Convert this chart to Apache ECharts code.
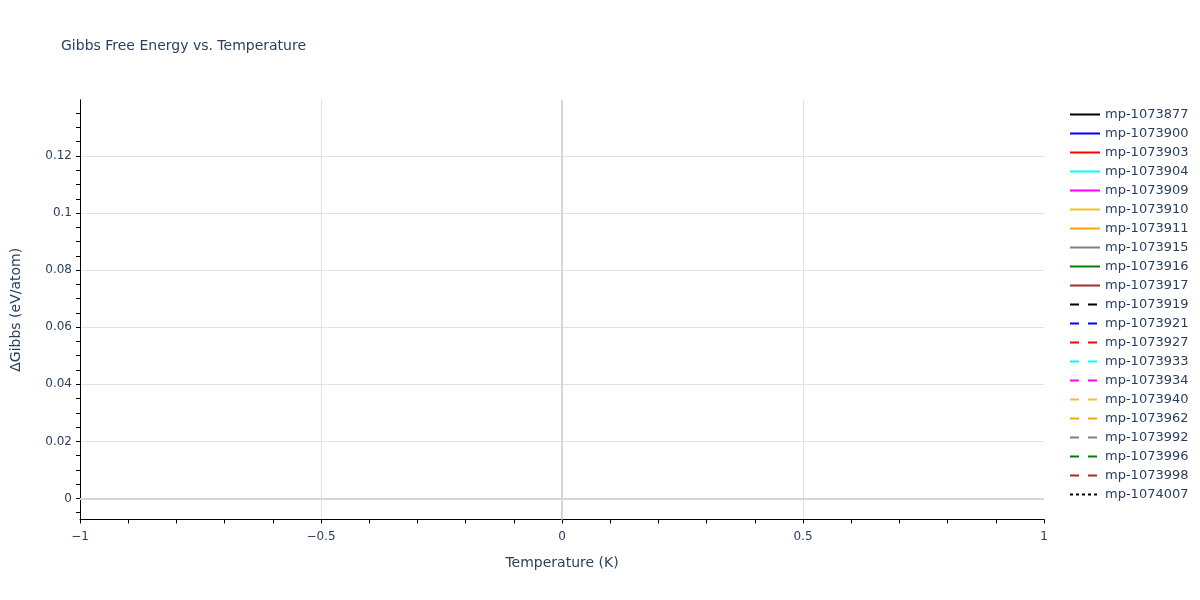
<!DOCTYPE html>
<html>
<head>
<meta charset="utf-8">
<script src="https://cdn.jsdelivr.net/npm/echarts@6/dist/echarts.min.js"></script>
<style>html,body{margin:0;padding:0;background:#fff}#c{width:1200px;height:600px}</style>
</head>
<body>
<div id="c"></div>
<script>
// Series names (legend entries) — traces have no visible data points
const seriesNames = ['mp-1073877','mp-1073900','mp-1073903','mp-1073904','mp-1073909','mp-1073910','mp-1073911','mp-1073915','mp-1073916','mp-1073917','mp-1073919','mp-1073921','mp-1073927','mp-1073933','mp-1073934','mp-1073940','mp-1073962','mp-1073992','mp-1073996','mp-1073998','mp-1074007'];
const seriesColors = ['#000000','#0000ff','#ff0000','#00ffff','#ff00ff','#f0c22a','#ffa500','#808080','#008000','#a52a2a','#000000','#0000ff','#ff0000','#00ffff','#ff00ff','#f0c22a','#ffa500','#808080','#008000','#a52a2a','#000000'];
const seriesDash = ['solid','solid','solid','solid','solid','solid','solid','solid','solid','solid','dash','dash','dash','dash','dash','dash','dash','dash','dash','dash','dot'];
const temperatures = [];
const gibbsValues = seriesNames.map(() => []);
// Axis ranges & ticks
const xRange = [-1, 1];
const yRange = [-0.00737, 0.1396];
const yLabelTicks = [0, 0.02, 0.04, 0.06, 0.08, 0.1, 0.12];
const yMinorTicks = [-0.005,0,0.005,0.01,0.015,0.02,0.025,0.03,0.035,0.04,0.045,0.05,0.055,0.06,0.065,0.07,0.075,0.08,0.085,0.09,0.095,0.1,0.105,0.11,0.115,0.12,0.125,0.13,0.135];

const FONT = '"DejaVu Sans", Verdana, sans-serif';
const TXT = '#2a3f5f';
const dashMap = {solid: 'solid', dash: [9, 9], dot: [3, 3]};

const chart = echarts.init(document.getElementById('c'));
const series = seriesNames.map((name, i) => ({
  name: name,
  type: 'line',
  symbol: 'none',
  showSymbol: false,
  data: gibbsValues[i].map((v, j) => [temperatures[j], v]),
  lineStyle: {color: seriesColors[i], width: 2, type: dashMap[seriesDash[i]]},
  itemStyle: {color: seriesColors[i]},
  z: 3
}));
// zero lines (axis feature)
series.push({
  name: '_zero', type: 'line', data: [], symbol: 'none', silent: true, z: 1,
  markLine: {
    silent: true, symbol: 'none', label: {show: false},
    lineStyle: {color: '#d6d6d6', width: 2, type: 'solid'},
    data: [{yAxis: 0}, {xAxis: 0}]
  }
});

chart.setOption({
  animation: false,
  backgroundColor: '#fff',
  textStyle: {fontFamily: FONT},
  title: {
    text: 'Gibbs Free Energy vs. Temperature',
    left: 61, top: 39, padding: 0,
    textStyle: {fontFamily: FONT, fontSize: 14, fontWeight: 'normal', color: TXT}
  },
  legend: {
    data: seriesNames,
    orient: 'vertical', left: 1069, top: 108, padding: 0,
    itemWidth: 30, itemHeight: 14, itemGap: 6,
    itemStyle: {opacity: 0},
    lineStyle: {width: 2},
    textStyle: {fontFamily: FONT, fontSize: 13, color: TXT},
    selectedMode: false
  },
  grid: {left: 80, right: 156, top: 100, bottom: 80.5, containLabel: false},
  xAxis: {
    type: 'value', min: xRange[0], max: xRange[1], interval: 0.5,
    name: 'Temperature (K)', nameLocation: 'middle', nameGap: 37,
    nameTextStyle: {fontFamily: FONT, fontSize: 14, color: TXT},
    axisLine: {show: true, onZero: false, lineStyle: {color: '#000', width: 1}},
    axisTick: {show: true, length: 4, lineStyle: {color: '#000'}},
    minorTick: {show: true, splitNumber: 5, length: 4, lineStyle: {color: '#000'}},
    axisLabel: {
      fontFamily: FONT, fontSize: 12, color: TXT, margin: 11,
      formatter: v => (v < 0 ? '\u2212' + Math.abs(v) : String(v))
    },
    splitLine: {show: true, showMinLine: false, showMaxLine: false, lineStyle: {color: '#e2e2e2', width: 1}}
  },
  yAxis: [{
    type: 'value', min: yRange[0], max: yRange[1],
    name: '\u0394Gibbs (eV/atom)', nameLocation: 'middle', nameGap: 57,
    nameTextStyle: {fontFamily: FONT, fontSize: 14, color: TXT},
    axisLine: {show: true, onZero: false, lineStyle: {color: '#000', width: 1}},
    axisTick: {show: false, customValues: yLabelTicks},
    axisLabel: {fontFamily: FONT, fontSize: 12, color: TXT, margin: 8, customValues: yLabelTicks,
      formatter: v => String(+v.toFixed(4))},
    splitLine: {show: true, lineStyle: {color: '#e2e2e2', width: 1}}
  }, {
    type: 'value', min: yRange[0], max: yRange[1], position: 'left', offset: 0,
    axisLine: {show: true, onZero: false, lineStyle: {color: '#000', width: 1}},
    axisTick: {show: true, length: 4, customValues: yMinorTicks, lineStyle: {color: '#000'}},
    axisLabel: {show: false},
    splitLine: {show: false}
  }],
  series: series
});
</script>
</body>
</html>
